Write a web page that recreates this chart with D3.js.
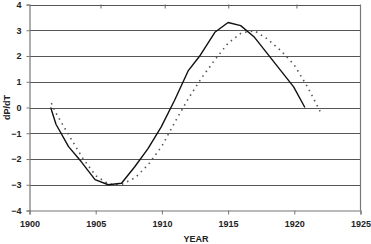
<!DOCTYPE html>
<html>
<head>
<meta charset="utf-8">
<script src="https://cdn.jsdelivr.net/npm/d3@7"></script>
<style>
  body { margin: 0; background: #fff; }
  svg text { font-family: "Liberation Sans", Arial, sans-serif; font-weight: bold; fill: #222; }
</style>
</head>
<body>
<svg width="371" height="244"></svg>
<script>
// observed dP/dT (solid)
var solidYears  = [1901.6, 1902.0, 1902.95, 1903.9, 1904.95, 1905.95, 1906.95, 1907.95, 1908.95, 1909.95, 1910.95, 1911.98, 1912.9, 1914.0, 1915.0, 1915.95, 1916.95, 1917.95, 1918.95, 1919.95, 1920.8];
var solidValues = [0, -0.65, -1.52, -2.1, -2.8, -3.0, -2.94, -2.3, -1.6, -0.75, 0.27, 1.42, 2.03, 2.92, 3.3, 3.18, 2.75, 2.1, 1.45, 0.8, 0];
// fitted curve (dotted)
var dotYears  = [1901.65, 1902, 1903, 1904, 1905, 1906, 1907, 1908, 1909, 1910, 1911, 1912, 1913, 1914, 1915, 1916, 1917, 1918, 1919, 1920, 1921, 1921.95];
var dotValues = [0.17, -0.22, -1.1, -1.95, -2.65, -2.98, -2.98, -2.72, -2.2, -1.5, -0.55, 0.35, 1.15, 1.85, 2.5, 2.9, 2.98, 2.65, 2.2, 1.65, 0.8, -0.15];

var xTicks = [1900, 1905, 1910, 1915, 1920, 1925];
var yTicks = [-4, -3, -2, -1, 0, 1, 2, 3, 4];
var topTicks = [1905.4, 1910.25, 1915.05, 1920.2];

var svg = d3.select('svg');
var mLeft = 29.5, mRight = 360.5, mTop = 4.5, mBottom = 210.5;

var x = d3.scaleLinear().domain([1900, 1925]).range([mLeft, mRight]);
var y = d3.scaleLinear().domain([-4, 4]).range([mBottom, mTop]);

// gridlines
svg.selectAll('.grid')
  .data(yTicks.filter(function(d) { return d > -4; }))
  .enter()
  .append('line')
  .attr('class', 'grid')
  .attr('x1', mLeft)
  .attr('x2', mRight)
  .attr('y1', function(d) { return Math.round(y(d)) + 0.5; })
  .attr('y2', function(d) { return Math.round(y(d)) + 0.5; })
  .attr('stroke', '#555')
  .attr('stroke-width', 1);

// right border
svg.append('line')
  .attr('x1', mRight).attr('x2', mRight)
  .attr('y1', y(4)).attr('y2', y(-4))
  .attr('stroke', '#777').attr('stroke-width', 1.2);

// top ticks
svg.selectAll('.ttick')
  .data(topTicks)
  .enter()
  .append('line')
  .attr('x1', function(d) { return x(d); })
  .attr('x2', function(d) { return x(d); })
  .attr('y1', y(4))
  .attr('y2', y(4) + 4)
  .attr('stroke', '#666');

var xAxis = d3.axisBottom(x)
  .tickValues(xTicks)
  .tickFormat(d3.format('d'))
  .tickSize(4)
  .tickPadding(6);

var gx = svg.append('g')
  .attr('transform', 'translate(0,' + y(-4) + ')')
  .call(xAxis);
gx.select('.domain').attr('stroke', '#777').attr('stroke-width', 1.2);
gx.selectAll('.tick line').attr('stroke', '#777');
gx.selectAll('text').style('font-size', '9px').attr('fill', '#222');

var yAxis = d3.axisLeft(y)
  .tickValues(yTicks)
  .tickSize(3)
  .tickPadding(5);

var gy = svg.append('g')
  .attr('transform', 'translate(' + mLeft + ',0)')
  .call(yAxis);
gy.select('.domain').attr('stroke', '#777').attr('stroke-width', 1.2);
gy.selectAll('.tick line').attr('stroke', '#777');
gy.selectAll('text').style('font-size', '9px').attr('fill', '#222');

// axis titles
svg.append('text')
  .attr('x', (mLeft + mRight) / 2 + 1)
  .attr('y', 242)
  .attr('text-anchor', 'middle')
  .style('font-size', '9px')
  .text('YEAR');

svg.append('text')
  .attr('transform', 'translate(10,' + y(0) + ') rotate(-90)')
  .attr('text-anchor', 'middle')
  .style('font-size', '9px')
  .text('dP/dT');

var line = d3.line()
  .x(function(d) { return x(d[0]); })
  .y(function(d) { return y(d[1]); });

svg.append('path')
  .datum(d3.zip(dotYears, dotValues))
  .attr('d', line)
  .attr('fill', 'none')
  .attr('stroke', '#555')
  .attr('stroke-width', 1.6)
  .attr('stroke-dasharray', '1.5,4.2');

svg.append('path')
  .datum(d3.zip(solidYears, solidValues))
  .attr('d', line)
  .attr('fill', 'none')
  .attr('stroke', '#111')
  .attr('stroke-width', 1.4)
  .attr('stroke-linejoin', 'round');
</script>
</body>
</html>
